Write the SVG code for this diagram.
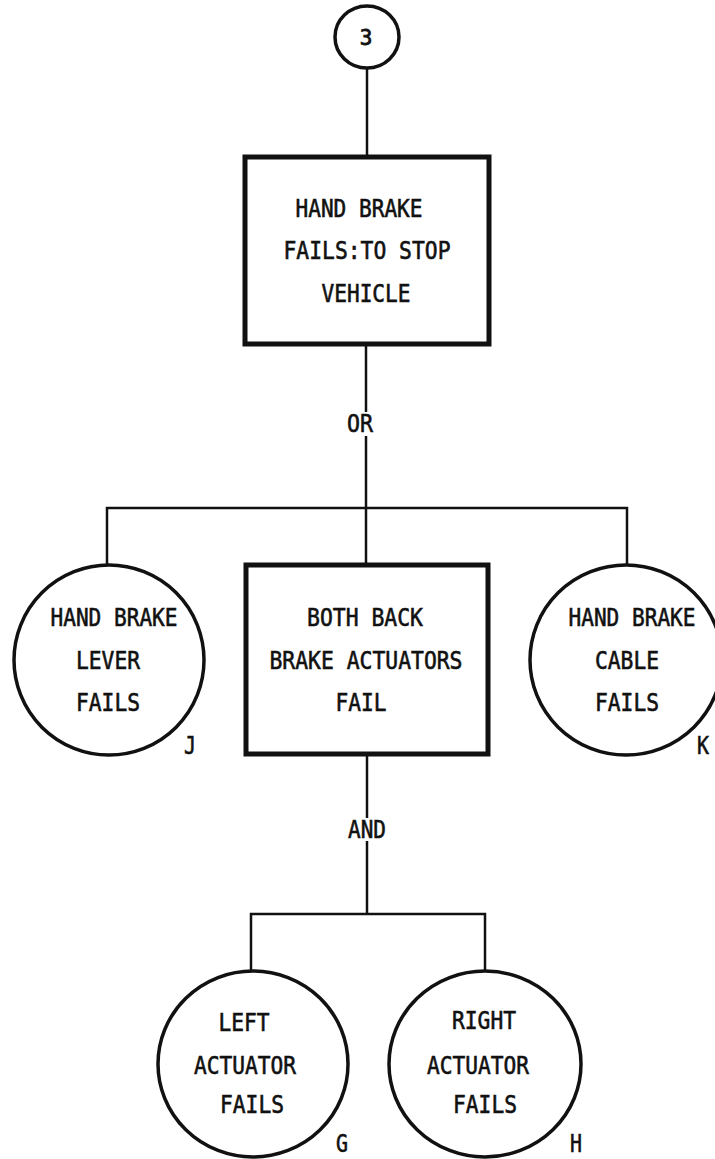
<svg xmlns="http://www.w3.org/2000/svg" width="715" height="1159" viewBox="0 0 715 1159">
<style>
.t{font-family:"DejaVu Sans Mono","Liberation Mono",monospace;font-size:24px;fill:#111;stroke:#111;stroke-width:0.6;text-anchor:middle}
.s{font-size:21px;stroke-width:0.8}
.box{fill:#fff;stroke:#111;stroke-width:5}
.ev{fill:#fff;stroke:#111;stroke-width:3.5}
.c{fill:none;stroke:#111;stroke-width:2.5}
</style>
<rect width="715" height="1159" fill="#fff"/>
<g id="connectors">
<line class="c" x1="367" y1="68" x2="367" y2="157"/>
<line class="c" x1="366" y1="344" x2="366" y2="412"/>
<line class="c" x1="366" y1="436" x2="366" y2="565"/>
<polyline class="c" points="107,566 107,508 627,508 627,566"/>
<line class="c" x1="367" y1="755" x2="367" y2="818"/>
<line class="c" x1="367" y1="841" x2="367" y2="914"/>
<polyline class="c" points="251,971 251,914 485,914 485,971"/>
<text class="t" x="360" y="432" textLength="26" lengthAdjust="spacingAndGlyphs">OR</text>
<text class="t" x="367" y="838" textLength="38" lengthAdjust="spacingAndGlyphs">AND</text>
</g>
<g id="n3">
<ellipse class="ev" cx="367" cy="37" rx="32" ry="31"/>
<text class="t s" x="366" y="45">3</text>
</g>
<g id="top">
<rect class="box" x="245" y="157" width="244" height="187"/>
<text class="t" x="359" y="217" textLength="127" lengthAdjust="spacingAndGlyphs">HAND BRAKE</text>
<text class="t" x="367" y="259" textLength="167" lengthAdjust="spacingAndGlyphs">FAILS:TO STOP</text>
<text class="t" x="366" y="302" textLength="89" lengthAdjust="spacingAndGlyphs">VEHICLE</text>
</g>
<g id="J">
<ellipse class="ev" cx="109" cy="660" rx="95" ry="95"/>
<text class="t" x="114" y="626" textLength="127" lengthAdjust="spacingAndGlyphs">HAND BRAKE</text>
<text class="t" x="108" y="669" textLength="64" lengthAdjust="spacingAndGlyphs">LEVER</text>
<text class="t" x="108" y="711" textLength="64" lengthAdjust="spacingAndGlyphs">FAILS</text>
<text class="t" x="190" y="754" textLength="12" lengthAdjust="spacingAndGlyphs">J</text>
</g>
<g id="both">
<rect class="box" x="246" y="565" width="242" height="189"/>
<text class="t" x="365" y="626" textLength="116" lengthAdjust="spacingAndGlyphs">BOTH BACK</text>
<text class="t" x="366" y="669" textLength="193" lengthAdjust="spacingAndGlyphs">BRAKE ACTUATORS</text>
<text class="t" x="361" y="711" textLength="51" lengthAdjust="spacingAndGlyphs">FAIL</text>
</g>
<g id="K">
<ellipse class="ev" cx="626" cy="660" rx="96" ry="95"/>
<text class="t" x="632" y="626" textLength="127" lengthAdjust="spacingAndGlyphs">HAND BRAKE</text>
<text class="t" x="627" y="669" textLength="64" lengthAdjust="spacingAndGlyphs">CABLE</text>
<text class="t" x="627" y="711" textLength="64" lengthAdjust="spacingAndGlyphs">FAILS</text>
<text class="t" x="703" y="754" textLength="12" lengthAdjust="spacingAndGlyphs">K</text>
</g>
<g id="G">
<ellipse class="ev" cx="253" cy="1064" rx="95" ry="93"/>
<text class="t" x="244" y="1031" textLength="51" lengthAdjust="spacingAndGlyphs">LEFT</text>
<text class="t" x="245" y="1074" textLength="102" lengthAdjust="spacingAndGlyphs">ACTUATOR</text>
<text class="t" x="252" y="1113" textLength="64" lengthAdjust="spacingAndGlyphs">FAILS</text>
<text class="t" x="342" y="1152" textLength="12" lengthAdjust="spacingAndGlyphs">G</text>
</g>
<g id="H">
<ellipse class="ev" cx="485" cy="1064" rx="96" ry="93"/>
<text class="t" x="484" y="1029" textLength="64" lengthAdjust="spacingAndGlyphs">RIGHT</text>
<text class="t" x="478" y="1074" textLength="102" lengthAdjust="spacingAndGlyphs">ACTUATOR</text>
<text class="t" x="485" y="1113" textLength="64" lengthAdjust="spacingAndGlyphs">FAILS</text>
<text class="t" x="576" y="1152" textLength="12" lengthAdjust="spacingAndGlyphs">H</text>
</g>
</svg>
